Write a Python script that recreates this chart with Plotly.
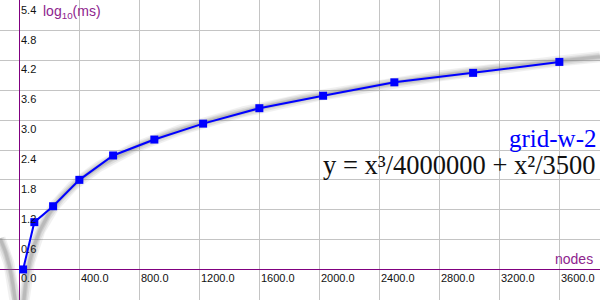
import numpy as np
import plotly.graph_objects as go

# data
nodes = [25, 100, 225, 400, 625, 900, 1225, 1600, 2025, 2500, 3025, 3600]
log_ms = [0.0, 0.95, 1.27, 1.80, 2.29, 2.61, 2.93, 3.24, 3.49, 3.76, 3.95, 4.17]

x_ticks = [0, 400, 800, 1200, 1600, 2000, 2400, 2800, 3200, 3600]
x_tick_labels = ["0.0", "400.0", "800.0", "1200.0", "1600.0", "2000.0", "2400.0", "2800.0", "3200.0", "3600.0"]
y_ticks = [0.6, 1.2, 1.8, 2.4, 3.0, 3.6, 4.2, 4.8, 5.4]
y_tick_labels = ["0.6", "1.2", "1.8", "2.4", "3.0", "3.6", "4.2", "4.8", "5.4"]

series_name = "grid-w-2"
formula_text = "y = x³/4000000 + x²/3500"
coef_cubic = 4000000.0
coef_square = 3500.0

X_RANGE = [-129, 3871]
Y_RANGE = [-0.614, 5.414]

# fitted function from the chart's legend
fx = np.linspace(X_RANGE[0], X_RANGE[1], 1600)
fx = fx[np.abs(fx) > 1]
fval = fx ** 3 / coef_cubic + fx ** 2 / coef_square
fy = np.where(fval > 0, np.log10(np.clip(fval, 1e-12, None)), np.nan)
fy = np.where(fy < Y_RANGE[0] - 0.3, Y_RANGE[0] - 0.3, fy)
fx_list = list(fx)
fy_list = list(fy)
neg = [i for i, v in enumerate(fx_list) if v < 0]
ins = neg[-1] + 1
fx_list.insert(ins, None)
fy_list.insert(ins, None)

fig = go.Figure()
for w, op in [(11, 0.10), (8, 0.14), (5, 0.18), (3, 0.2)]:
    fig.add_trace(go.Scatter(x=fx_list, y=fy_list, mode="lines",
                             line=dict(color="rgb(120,120,120)", width=w),
                             opacity=op, hoverinfo="skip", showlegend=False))

fig.add_trace(go.Scatter(x=nodes, y=log_ms, mode="lines+markers",
                         line=dict(color="#0000ff", width=2),
                         marker=dict(symbol="square", size=8, color="#0000ff"),
                         showlegend=False))

tick_font = dict(family="Liberation Sans, Arial", size=11, color="#111")
annotations = []
for xv, t in zip(x_ticks, x_tick_labels):
    annotations.append(dict(x=xv, y=0, xref="x", yref="y", text=t, showarrow=False,
                            xanchor="left", yanchor="top", xshift=0, yshift=-1, font=tick_font))
for yv, t in zip(y_ticks, y_tick_labels):
    annotations.append(dict(x=0, y=yv, xref="x", yref="y", text=t, showarrow=False,
                            xanchor="left", yanchor="top", xshift=0, yshift=-1, font=tick_font))

annotations.append(dict(x=0, y=1, xref="x", yref="paper", text="log<sub>10</sub>(ms)",
                        showarrow=False, xanchor="left", yanchor="top", xshift=22, yshift=-1,
                        font=dict(family="Liberation Sans, Arial", size=14, color="#8e248e")))
annotations.append(dict(x=1, y=0, xref="paper", yref="y", text="nodes",
                        showarrow=False, xanchor="right", yanchor="bottom", xshift=-5, yshift=0,
                        font=dict(family="Liberation Sans, Arial", size=14, color="#8e248e")))
annotations.append(dict(x=1, y=1 - 138 / 300.0, xref="paper", yref="paper", text=series_name,
                        showarrow=False, xanchor="right", yanchor="middle", xshift=-2,
                        font=dict(family="Liberation Serif, Times New Roman, serif", size=25, color="#0000ff")))
annotations.append(dict(x=1, y=1 - 165 / 300.0, xref="paper", yref="paper", text=formula_text,
                        showarrow=False, xanchor="right", yanchor="middle", xshift=-2,
                        font=dict(family="Liberation Serif, Times New Roman, serif", size=26.5, color="#111")))

fig.update_layout(
    width=600, height=300,
    margin=dict(l=0, r=0, t=0, b=0),
    paper_bgcolor="white", plot_bgcolor="white",
    annotations=annotations,
    xaxis=dict(range=X_RANGE, tick0=0, dtick=400, showgrid=True, gridcolor="#c4c4c4", gridwidth=1,
               zeroline=True, zerolinecolor="#800080", zerolinewidth=1.3,
               showticklabels=False, ticks="", showline=False, fixedrange=True),
    yaxis=dict(range=Y_RANGE, tick0=0, dtick=0.6, showgrid=True, gridcolor="#c4c4c4", gridwidth=1,
               zeroline=True, zerolinecolor="#800080", zerolinewidth=1.3,
               showticklabels=False, ticks="", showline=False, fixedrange=True),
)

fig.write_html("out.html")
